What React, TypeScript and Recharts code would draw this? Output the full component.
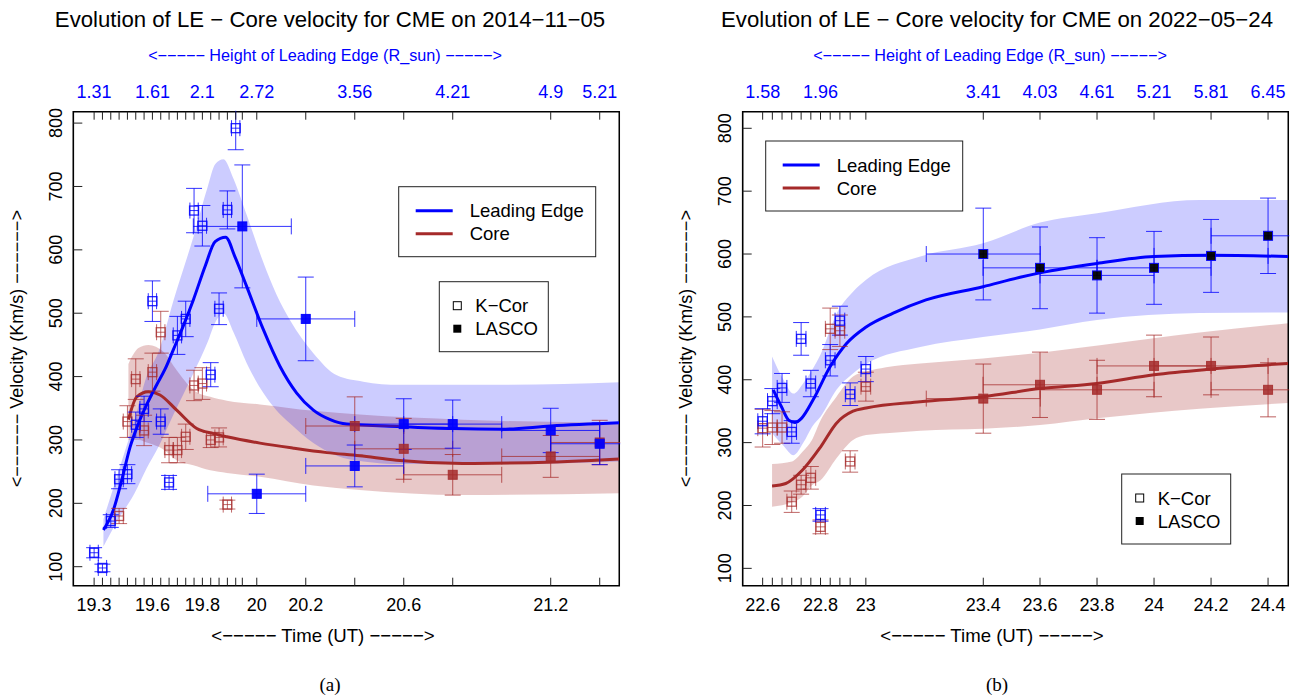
import React from 'react';
import { Area, ComposedChart, ErrorBar, Line, ReferenceArea, Scatter, XAxis, YAxis } from 'recharts';

const BLUE = '#0000ff';
const BROWN = '#a52a2a';
const SANS = '"Liberation Sans", Arial, Helvetica, sans-serif';
const SERIF = '"Liberation Serif", "DejaVu Serif", serif';

const velocityTicks = [100, 200, 300, 400, 500, 600, 700, 800];
const KCOR_DT = 0.017; // half width of a K-Cor frame, hours
const LASCO_DT = 0.2;

// ---- (a) CME on 2014-11-05 ----
const timeTicksA = [
  19.336, 19.37, 19.404, 19.438, 19.472, 19.506, 19.54, 19.574, 19.608, 19.642, 19.676, 19.71,
  19.744, 19.778, 19.812, 19.846, 19.88, 19.914, 19.941, 20.0, 20.2, 20.4, 20.6, 20.8, 21.2, 21.4,
];
const timeLabelsA = [
  '19.3', '', '', '', '', '', '', '19.6', '', '', '', '', '', '19.8', '', '', '', '', '', '20',
  '20.2', '', '20.6', '', '21.2', '',
];
const heightLabelsA = [
  '1.31', '', '', '', '', '', '', '1.61', '', '', '', '', '', '2.1', '', '', '', '', '', '2.72',
  '', '3.56', '', '4.21', '4.9', '5.21',
];

// [time, velocity, error]
const leKcorA = [
  [19.336, 122, 8], [19.37, 98, 6], [19.404, 172, 10], [19.438, 238, 15], [19.472, 246, 15],
  [19.506, 324, 20], [19.54, 349, 20], [19.574, 519, 32], [19.608, 329, 20], [19.642, 233, 11],
  [19.676, 465, 30], [19.71, 491, 28], [19.744, 662, 35], [19.778, 638, 32], [19.812, 403, 19],
  [19.846, 507, 25], [19.88, 663, 30], [19.914, 792, 34],
];
const coreKcorA = [
  [19.438, 180, 12], [19.472, 329, 25], [19.506, 396, 32], [19.54, 315, 24], [19.574, 407, 30],
  [19.608, 470, 33], [19.642, 284, 20], [19.676, 284, 20], [19.71, 305, 20], [19.744, 386, 24],
  [19.778, 389, 25], [19.812, 300, 12], [19.846, 304, 15], [19.88, 198, 7],
];
const leLascoA = [
  [19.941, 637, 97], [20.0, 215, 31], [20.2, 491, 66], [20.4, 259, 33], [20.6, 325, 40],
  [20.8, 325, 38], [21.2, 315, 35], [21.4, 294, 33],
];
const coreLascoA = [
  [20.4, 322, 46], [20.6, 286, 48], [20.8, 245, 32], [21.2, 274, 33], [21.4, 296, 35],
];
// [time, velocity]
const leFitA = [
  [19.374, 158], [19.415, 190], [19.449, 237], [19.483, 289], [19.517, 326], [19.551, 356],
  [19.59, 386], [19.626, 412], [19.66, 443], [19.7, 480], [19.741, 521], [19.79, 575],
  [19.83, 613], [19.873, 620], [19.911, 589], [19.959, 542], [20.027, 474], [20.095, 416],
  [20.163, 374], [20.231, 347], [20.3, 332], [20.367, 325], [20.585, 321], [20.8, 318],
  [21.0, 317], [21.2, 322], [21.48, 327],
];
const coreFitA = [
  [19.476, 332], [19.51, 368], [19.558, 376], [19.605, 371], [19.673, 347], [19.755, 318],
  [19.823, 310], [19.878, 305], [20.013, 295], [20.15, 287], [20.286, 280], [20.42, 275],
  [20.57, 268], [20.84, 263], [21.116, 264], [21.48, 270],
];
// [time, lower, upper]
const leBandA = [
  [19.374, 132, 175], [19.435, 175, 250], [19.5, 215, 330], [19.55, 255, 400], [19.6, 290, 440],
  [19.66, 340, 520], [19.741, 405, 620], [19.8, 455, 700], [19.83, 485, 735], [19.864, 500, 743],
  [19.905, 470, 712], [19.959, 421, 655], [20.027, 374, 580], [20.08, 347, 530],
  [20.136, 326, 489], [20.231, 295, 437], [20.327, 275, 402], [20.435, 266, 392],
  [20.585, 262, 387], [21.0, 262, 387], [21.48, 266, 391],
];
const coreBandA = [
  [19.476, 300, 420], [19.517, 300, 445], [19.558, 295, 450], [19.619, 285, 439],
  [19.673, 268, 410], [19.741, 260, 379], [19.81, 252, 368], [19.878, 248, 362],
  [20.013, 242, 356], [20.231, 228, 346], [20.42, 221, 340], [20.84, 213, 332], [21.48, 216, 327],
];

// ---- (b) CME on 2022-05-24 ----
const timeTicksB = [
  22.627, 22.661, 22.695, 22.729, 22.762, 22.796, 22.83, 22.864, 22.898, 22.934, 22.989, 23.401,
  23.6, 23.8, 24.0, 24.2, 24.4,
];
const timeLabelsB = ['22.6', '', '', '', '', '', '22.8', '', '', '', '23', '23.4', '23.6', '23.8', '24', '24.2', '24.4'];
const heightLabelsB = ['1.58', '', '', '', '', '', '1.96', '', '', '', '', '3.41', '4.03', '4.61', '5.21', '5.81', '6.45'];

const leKcorB = [
  [22.627, 334, 20], [22.661, 366, 20], [22.695, 387, 23], [22.729, 317, 18], [22.762, 465, 26],
  [22.796, 394, 21], [22.83, 185, 10], [22.864, 431, 25], [22.898, 494, 23], [22.934, 377, 18],
  [22.989, 417, 20],
];
const coreKcorB = [
  [22.627, 323, 30], [22.661, 324, 27], [22.695, 324, 25], [22.729, 206, 17], [22.762, 233, 15],
  [22.796, 244, 18], [22.83, 166, 11], [22.864, 481, 33], [22.898, 478, 25], [22.934, 270, 17],
  [22.989, 389, 23],
];
const leLascoB = [
  [23.401, 600, 73], [23.6, 578, 65], [23.8, 566, 60], [24.0, 578, 58], [24.2, 597, 58], [24.4, 629, 60],
];
const coreLascoB = [
  [23.401, 370, 55], [23.6, 392, 52], [23.8, 384, 47], [24.0, 422, 49], [24.2, 422, 46], [24.4, 384, 43],
];
const leFitB = [
  [22.664, 384], [22.693, 357], [22.72, 335], [22.74, 332], [22.764, 339], [22.804, 368],
  [22.864, 421], [22.922, 458], [22.99, 484], [23.085, 506], [23.2, 527], [23.4, 548],
  [23.53, 563], [23.6, 570], [23.8, 585], [24.0, 596], [24.2, 598], [24.47, 596],
];
const coreFitB = [
  [22.66, 231], [22.708, 235], [22.766, 256], [22.83, 293], [22.886, 331], [22.944, 350],
  [22.99, 355], [23.18, 365], [23.4, 373], [23.6, 386], [23.8, 394], [24.0, 408], [24.2, 417],
  [24.47, 426],
];
const leBandB = [
  [22.66, 315, 437], [22.7, 295, 400], [22.735, 280, 378], [22.77, 300, 395], [22.8, 325, 415],
  [22.83, 341, 440], [22.886, 384, 505], [22.944, 410, 540], [22.99, 425, 559], [23.18, 452, 596],
  [23.4, 468, 617], [23.6, 480, 650], [23.8, 495, 665], [24.16, 506, 686], [24.47, 507, 686],
];
const coreBandB = [
  [22.66, 198, 266], [22.73, 205, 270], [22.766, 214, 285], [22.8, 232, 304], [22.83, 240, 335],
  [22.886, 275, 373], [22.944, 304, 405], [22.99, 312, 413], [23.06, 315, 420], [23.18, 319, 426],
  [23.4, 322, 434], [23.6, 328, 443], [23.81, 339, 455], [24.16, 354, 475], [24.47, 363, 490],
];

const toFit = (rows: number[][]) => rows.map(([t, v]) => ({ t, v }));
const toBand = (rows: number[][]) => rows.map(([t, lo, hi]) => ({ t, range: [lo, hi] }));
const toPoints = (rows: number[][], dt: number) => rows.map(([t, v, ey]) => ({ t, v, ex: dt, ey }));

function BottomTick(props: any) {
  const { x, y, payload, ticks, labels } = props;
  const label = labels[ticks.indexOf(payload.value)];
  return (
    <g>
      <line x1={x} x2={x} y1={y} y2={y - 8} stroke="#222" strokeWidth={1} />
      {label ? (
        <text x={x} y={y + 19} textAnchor="middle" dominantBaseline="central" fontSize={18} fontFamily={SANS} fill="#000">
          {label}
        </text>
      ) : null}
    </g>
  );
}

function TopTick(props: any) {
  const { x, y, payload, ticks, labels } = props;
  const label = labels[ticks.indexOf(payload.value)];
  return (
    <g>
      <line x1={x} x2={x} y1={y} y2={y + 8} stroke="#222" strokeWidth={1} />
      {label ? (
        <text x={x} y={y - 20} textAnchor="middle" dominantBaseline="central" fontSize={18} fontFamily={SANS} fill={BLUE}>
          {label}
        </text>
      ) : null}
    </g>
  );
}

function LeftTick(props: any) {
  const { x, y, payload } = props;
  return (
    <g>
      <line x1={x} x2={x + 9} y1={y} y2={y} stroke="#222" strokeWidth={1} />
      <text transform={`translate(${x - 11.5}, ${y}) rotate(-90)`} textAnchor="middle" fontSize={18} fontFamily={SANS} fill="#000">
        {payload.value}
      </text>
    </g>
  );
}

const openSquare = (color: string, opacity: number) => (p: any) => (
  <rect x={p.cx - 4.5} y={p.cy - 4.5} width={9} height={9} fill="none" stroke={color} strokeOpacity={opacity} strokeWidth={1.3} />
);
const filledSquare = (fill: string, stroke: string, opacity: number) => (p: any) => (
  <rect x={p.cx - 4.5} y={p.cy - 4.5} width={9} height={9} fill={fill} fillOpacity={opacity} stroke={stroke} strokeOpacity={opacity} strokeWidth={1} />
);

interface PanelProps {
  width: number;
  marginRight: number;
  yAxisWidth: number;
  xDomain: [number, number];
  yDomain: [number, number];
  ticks: number[];
  timeLabels: string[];
  heightLabels: string[];
  leKcor: number[][];
  coreKcor: number[][];
  leLasco: number[][];
  coreLasco: number[][];
  leFit: number[][];
  coreFit: number[][];
  leBand: number[][];
  coreBand: number[][];
  lascoLeFill: string;
}

function VelocityPanel(p: PanelProps) {
  const ax = { xAxisId: 'b', yAxisId: 'l' };
  return (
    <ComposedChart width={p.width} height={620} margin={{ top: 81.7, right: p.marginRight, bottom: 4.3, left: 0 }}>
      <XAxis
        xAxisId="b"
        dataKey="t"
        type="number"
        domain={p.xDomain}
        allowDataOverflow
        ticks={p.ticks}
        interval={0}
        tickSize={0}
        tickMargin={0}
        axisLine={false}
        tickLine={false}
        height={30}
        tick={<BottomTick ticks={p.ticks} labels={p.timeLabels} />}
      />
      <XAxis
        xAxisId="t"
        orientation="top"
        dataKey="t"
        type="number"
        domain={p.xDomain}
        allowDataOverflow
        ticks={p.ticks}
        interval={0}
        tickSize={0}
        tickMargin={0}
        axisLine={false}
        tickLine={false}
        height={30}
        tick={<TopTick ticks={p.ticks} labels={p.heightLabels} />}
      />
      <YAxis
        yAxisId="l"
        dataKey="v"
        type="number"
        domain={p.yDomain}
        allowDataOverflow
        ticks={velocityTicks}
        interval={0}
        tickSize={0}
        tickMargin={0}
        axisLine={false}
        tickLine={false}
        width={p.yAxisWidth}
        tick={<LeftTick />}
      />
      <Area {...ax} data={toBand(p.coreBand)} dataKey="range" type="monotone" stroke="none" fill={BROWN} fillOpacity={0.26} isAnimationActive={false} />
      <Area {...ax} data={toBand(p.leBand)} dataKey="range" type="monotone" stroke="none" fill={BLUE} fillOpacity={0.2} isAnimationActive={false} />
      <Line {...ax} data={toFit(p.coreFit)} dataKey="v" type="monotone" stroke={BROWN} strokeWidth={3} dot={false} isAnimationActive={false} />
      <Line {...ax} data={toFit(p.leFit)} dataKey="v" type="monotone" stroke={BLUE} strokeWidth={3} dot={false} isAnimationActive={false} />
      <Scatter {...ax} data={toPoints(p.coreKcor, KCOR_DT)} dataKey="v" shape={openSquare(BROWN, 0.75)} isAnimationActive={false}>
        <ErrorBar dataKey="ey" direction="y" width={8} stroke={BROWN} strokeOpacity={0.7} strokeWidth={1} />
        <ErrorBar dataKey="ex" direction="x" width={8} stroke={BROWN} strokeOpacity={0.7} strokeWidth={1} />
      </Scatter>
      <Scatter {...ax} data={toPoints(p.leKcor, KCOR_DT)} dataKey="v" shape={openSquare(BLUE, 0.85)} isAnimationActive={false}>
        <ErrorBar dataKey="ey" direction="y" width={8} stroke={BLUE} strokeOpacity={0.8} strokeWidth={1} />
        <ErrorBar dataKey="ex" direction="x" width={8} stroke={BLUE} strokeOpacity={0.8} strokeWidth={1} />
      </Scatter>
      <Scatter {...ax} data={toPoints(p.coreLasco, LASCO_DT)} dataKey="v" shape={filledSquare(BROWN, BROWN, 0.85)} isAnimationActive={false}>
        <ErrorBar dataKey="ey" direction="y" width={8} stroke={BROWN} strokeOpacity={0.75} strokeWidth={1} />
        <ErrorBar dataKey="ex" direction="x" width={8} stroke={BROWN} strokeOpacity={0.75} strokeWidth={1} />
      </Scatter>
      <Scatter {...ax} data={toPoints(p.leLasco, LASCO_DT)} dataKey="v" shape={filledSquare(p.lascoLeFill, BLUE, 0.95)} isAnimationActive={false}>
        <ErrorBar dataKey="ey" direction="y" width={8} stroke={BLUE} strokeOpacity={0.8} strokeWidth={1} />
        <ErrorBar dataKey="ex" direction="x" width={8} stroke={BLUE} strokeOpacity={0.8} strokeWidth={1} />
      </Scatter>
      <ReferenceArea {...ax} x1={p.xDomain[0]} x2={p.xDomain[1]} y1={p.yDomain[0]} y2={p.yDomain[1]} fill="none" stroke="#000" strokeWidth={1.6} ifOverflow="visible" />
    </ComposedChart>
  );
}

function Legends({ x1, y1, x2, y2 }: { x1: number; y1: number; x2: number; y2: number }) {
  return (
    <g fontFamily={SANS} fontSize={18.5}>
      <rect x={x1} y={y1} width={197} height={70} fill="#fff" stroke="#222" strokeWidth={1} />
      <line x1={x1 + 17} x2={x1 + 54} y1={y1 + 24} y2={y1 + 24} stroke={BLUE} strokeWidth={3} />
      <line x1={x1 + 17} x2={x1 + 54} y1={y1 + 47} y2={y1 + 47} stroke={BROWN} strokeWidth={3} />
      <text x={x1 + 71} y={y1 + 24} dominantBaseline="central">Leading Edge</text>
      <text x={x1 + 71} y={y1 + 47} dominantBaseline="central">Core</text>
      <rect x={x2} y={y2} width={109} height={70} fill="#fff" stroke="#222" strokeWidth={1} />
      <rect x={x2 + 14} y={y2 + 20} width={8} height={8} fill="none" stroke="#000" strokeWidth={1} />
      <rect x={x2 + 14} y={y2 + 43} width={8} height={8} fill="#000" />
      <text x={x2 + 36} y={y2 + 24} dominantBaseline="central">K−Cor</text>
      <text x={x2 + 36} y={y2 + 47} dominantBaseline="central">LASCO</text>
    </g>
  );
}

function Labels({ cx, title, hx, tx, yx }: { cx: number; title: string; hx: number; tx: number; yx: number }) {
  return (
    <g fontFamily={SANS}>
      <text x={cx} y={19} textAnchor="middle" dominantBaseline="central" fontSize={22.2}>{title}</text>
      <text x={hx} y={55} textAnchor="middle" dominantBaseline="central" fontSize={16.2} fill={BLUE}>
        {'<−−−−− Height of Leading Edge (R_sun) −−−−−>'}
      </text>
      <text x={tx} y={635} textAnchor="middle" dominantBaseline="central" fontSize={18.6}>
        {'<−−−−− Time (UT) −−−−−>'}
      </text>
      <text transform={`translate(${yx}, 348.7) rotate(-90)`} textAnchor="middle" dominantBaseline="central" fontSize={18}>
        {'<−−−−−− Velocity (Km/s) −−−−−−>'}
      </text>
    </g>
  );
}

export default function App() {
  return (
    <div style={{ position: 'absolute', left: 0, top: 0, width: 1294, height: 696, background: '#fff' }}>
      <div style={{ position: 'absolute', left: 0, top: 0 }}>
        <VelocityPanel
          width={660}
          marginRight={40.7}
          yAxisWidth={73.3}
          xDomain={[19.251, 21.48]}
          yDomain={[70, 818]}
          ticks={timeTicksA}
          timeLabels={timeLabelsA}
          heightLabels={heightLabelsA}
          leKcor={leKcorA}
          coreKcor={coreKcorA}
          leLasco={leLascoA}
          coreLasco={coreLascoA}
          leFit={leFitA}
          coreFit={coreFitA}
          leBand={leBandA}
          coreBand={coreBandA}
          lascoLeFill={BLUE}
        />
      </div>
      <div style={{ position: 'absolute', left: 670, top: 0 }}>
        <VelocityPanel
          width={624}
          marginRight={5.7}
          yAxisWidth={72.7}
          xDomain={[22.557, 24.471]}
          yDomain={[72.4, 826.4]}
          ticks={timeTicksB}
          timeLabels={timeLabelsB}
          heightLabels={heightLabelsB}
          leKcor={leKcorB}
          coreKcor={coreKcorB}
          leLasco={leLascoB}
          coreLasco={coreLascoB}
          leFit={leFitB}
          coreFit={coreFitB}
          leBand={leBandB}
          coreBand={coreBandB}
          lascoLeFill="#000"
        />
      </div>
      <svg width={1294} height={696} style={{ position: 'absolute', left: 0, top: 0, pointerEvents: 'none' }}>
        {/* hide error bars that run past the plot frame */}
        <rect x={620.2} y={100} width={40} height={492} fill="#fff" />
        <rect x={74} y={101} width={545} height={9.8} fill="#fff" />
        <rect x={1289.2} y={100} width={5} height={492} fill="#fff" />
        <rect x={744} y={101} width={544} height={9.8} fill="#fff" />
        <Labels cx={330} title="Evolution of LE − Core velocity for CME on 2014−11−05" hx={325} tx={323} yx={17} />
        <Labels cx={997} title="Evolution of LE − Core velocity for CME on 2022−05−24" hx={990} tx={992} yx={686} />
        <Legends x1={398.7} y1={186.7} x2={439.3} y2={281.7} />
        <Legends x1={765.7} y1={141} x2={1121.7} y2={474} />
        <text x={330} y={684} textAnchor="middle" dominantBaseline="central" fontSize={19} fontFamily={SERIF}>(a)</text>
        <text x={997} y={684} textAnchor="middle" dominantBaseline="central" fontSize={19} fontFamily={SERIF}>(b)</text>
      </svg>
    </div>
  );
}
